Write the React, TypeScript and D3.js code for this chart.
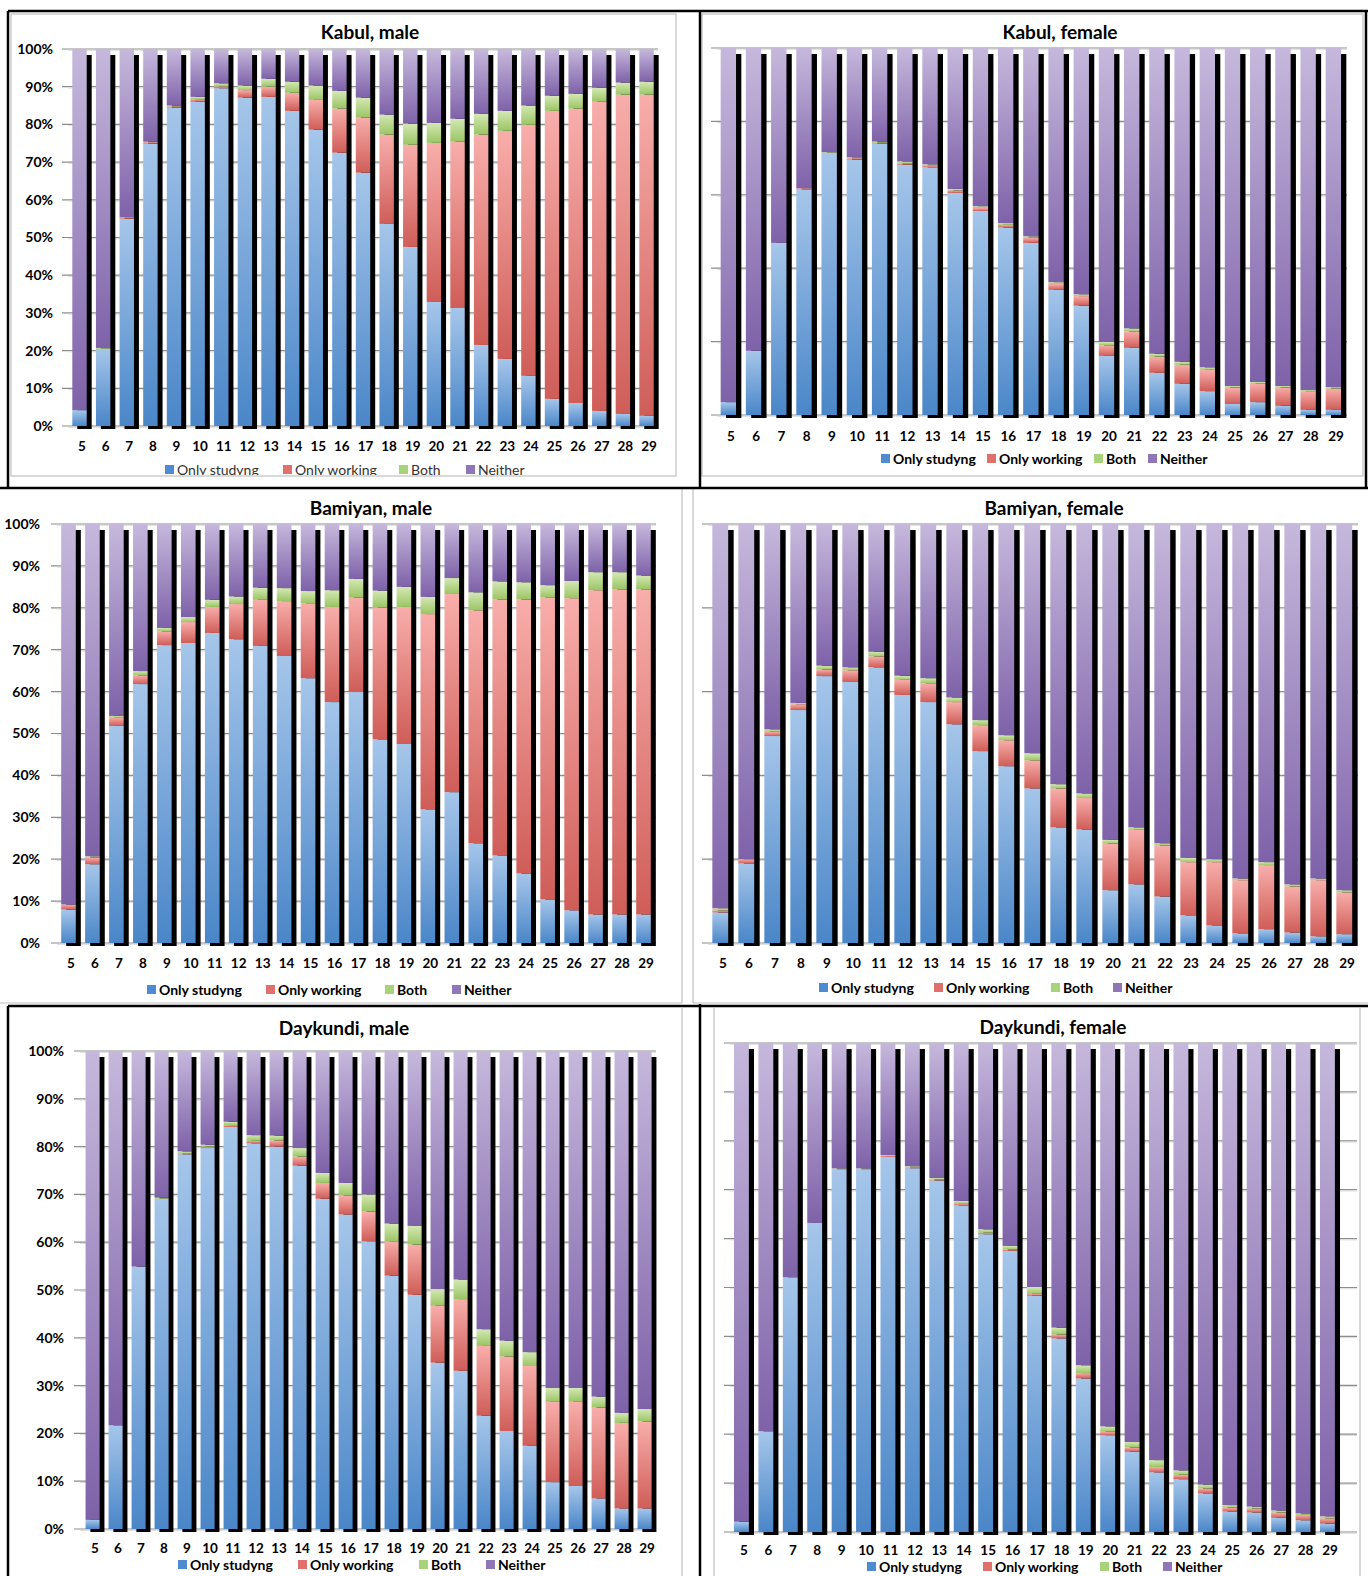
import React from "react";
import * as d3 from "d3";

// ---------- data ----------
const ages = ["5","6","7","8","9","10","11","12","13","14","15","16","17","18","19","20","21","22","23","24","25","26","27","28","29"];
const seriesNames = ["Only studyng", "Only working", "Both", "Neither"];
const yTicks10 = [0, 10, 20, 30, 40, 50, 60, 70, 80, 90, 100];
const yTicks20 = [0, 20, 40, 60, 80, 100];

const kabulMaleStudying = [4.2,20.5,55,74.9,84.5,86,89.6,87.1,87.3,83.6,78.6,72.5,67.2,53.6,47.5,32.9,31.3,21.5,17.8,13.3,7.2,6.1,4,3.2,2.7];
const kabulMaleWorking  = [0,0,0.4,0.4,0.3,0.7,0.5,2,2.7,4.8,7.9,11.7,14.6,23.7,27.1,42.2,44.1,55.8,60.5,66.6,76.4,78.1,82,84.7,85.2];
const kabulMaleBoth     = [0,0.2,0,0.1,0.2,0.6,0.8,1.2,2.1,2.9,3.8,4.7,5.3,5.3,5.6,5.3,6.1,5.5,5.3,5.1,4,3.9,3.7,3.2,3.4];

const kabulFemaleStudying = [3.5,17.5,46.9,61.5,71.4,69.6,74,68.2,67.5,60.5,55.6,51.1,46.9,34.1,29.8,16.1,18.3,11.5,8.5,6.5,3,3.5,2.5,1.4,1.4];
const kabulFemaleWorking  = [0,0,0,0.3,0,0.4,0.2,0.4,0.4,0.7,0.8,0.7,1.4,1.6,2.6,2.9,4.5,4.4,5.2,5.8,4.5,5,5,5.1,5.8];
const kabulFemaleBoth     = [0,0,0,0,0.2,0.2,0.3,0.5,0.4,0.4,0.5,0.5,0.4,0.5,0.5,0.9,0.8,0.8,0.8,0.7,0.4,0.5,0.4,0.3,0.4];

const bamiyanMaleStudying = [8,18.8,51.8,61.8,71.1,71.6,74,72.5,70.9,68.5,63.2,57.5,59.9,48.6,47.5,31.9,36,23.8,20.9,16.6,10.4,7.8,6.8,6.8,6.8];
const bamiyanMaleWorking  = [1.2,1.6,2.1,2.1,3.3,5,6.2,8.4,11,13.1,17.9,22.7,22.5,31.5,32.7,46.6,47.3,55.6,61.1,65.4,72.1,74.5,77.4,77.6,77.6];
const bamiyanMaleBoth     = [0,0.3,0.3,1,0.8,1.2,1.7,1.8,2.9,3.1,2.9,4,4.5,4,4.8,4.1,3.8,4.3,4.3,4.1,2.9,4.1,4.3,4.1,3.3];

const bamiyanFemaleStudying = [7.3,19,49.4,55.6,63.7,62.3,65.8,59.2,57.5,52.2,45.8,42.2,36.9,27.6,27.1,12.6,14,11.1,6.6,4.2,2.3,3.3,2.5,1.6,2.1];
const bamiyanFemaleWorking  = [0.5,1,1,1.4,1.6,2.8,2.6,3.6,4.5,5.3,6.2,6.2,6.7,9.3,7.5,11.1,13,12.2,12.7,15.1,12.7,15.3,11,13.4,10];
const bamiyanFemaleBoth     = [0.5,0,0.6,0.3,0.9,0.7,1.1,1,1.2,1.1,1.2,1.2,1.7,1,1.1,0.9,0.6,0.5,1,0.7,0.4,0.7,0.5,0.4,0.5];

const daykundiMaleStudying = [1.9,21.7,54.9,69.1,78.4,79.7,84.1,80.7,80,76,69.1,65.8,60.2,53,49,34.8,33.1,23.7,20.5,17.4,9.8,9,6.4,4.3,4.3];
const daykundiMaleWorking  = [0,0,0,0,0.1,0.3,0.4,0.5,1.3,1.9,3.3,4,6.2,7.2,10.5,11.9,15,14.6,15.6,16.7,16.8,17.6,19,17.9,18.2];
const daykundiMaleBoth     = [0,0,0,0.2,0.5,0.4,0.7,1.2,1,1.8,2.1,2.6,3.6,3.7,3.9,3.5,4.1,3.5,3.3,2.9,2.9,2.9,2.3,2.1,2.6];

const daykundiFemaleStudying = [2.1,20.6,52.1,63.2,74.2,74.2,76.7,74.4,71.9,66.8,60.9,57.5,48.3,39.6,31.4,19.8,16.4,12.2,10.8,7.9,4.2,4,2.9,2.4,1.7];
const daykundiFemaleWorking  = [0,0,0,0,0,0,0.2,0.1,0.2,0.3,0.3,0.3,0.4,0.8,1.1,0.7,0.9,1.1,0.9,1,0.8,0.8,1.1,1.1,1.1];
const daykundiFemaleBoth     = [0,0,0,0,0.15,0.15,0.2,0.3,0.3,0.6,0.7,0.7,1.4,1.4,1.6,1.1,1.1,1.4,0.9,0.8,0.5,0.4,0.4,0.3,0.4];

// ---------- layout ----------
type Panel = {
  key: string; title: string; s: number[]; w: number[]; b: number[];
  c0: number; c1: number; top: number; bottom: number; gridL: number; gridR: number;
  ticks: number[]; yLabelRight: number | null; xLabelY: number; legendY: number;
  legendX: number[]; legendBold: boolean; legendClip: number | null; titleX: number; titleY: number;
};

const panels: Panel[] = [
  { key: "km", title: "Kabul, male", s: kabulMaleStudying, w: kabulMaleWorking, b: kabulMaleBoth,
    c0: 82, c1: 649, top: 49, bottom: 426, gridL: 68, gridR: 658, ticks: yTicks10, yLabelRight: 53,
    xLabelY: 446, legendY: 470, legendX: [165, 283, 399, 466], legendBold: false, legendClip: 475, titleX: 370, titleY: 32 },
  { key: "kf", title: "Kabul, female", s: kabulFemaleStudying, w: kabulFemaleWorking, b: kabulFemaleBoth,
    c0: 731, c1: 1336, top: 48, bottom: 415, gridL: 717, gridR: 1347, ticks: yTicks20, yLabelRight: null,
    xLabelY: 436, legendY: 459, legendX: [881, 987, 1094, 1148], legendBold: true, legendClip: null, titleX: 1060, titleY: 32 },
  { key: "bm", title: "Bamiyan, male", s: bamiyanMaleStudying, w: bamiyanMaleWorking, b: bamiyanMaleBoth,
    c0: 71, c1: 646, top: 524, bottom: 943, gridL: 57, gridR: 656, ticks: yTicks10, yLabelRight: 40,
    xLabelY: 963, legendY: 990, legendX: [147, 266, 385, 452], legendBold: true, legendClip: null, titleX: 371, titleY: 508 },
  { key: "bf", title: "Bamiyan, female", s: bamiyanFemaleStudying, w: bamiyanFemaleWorking, b: bamiyanFemaleBoth,
    c0: 723, c1: 1347, top: 524, bottom: 943, gridL: 708, gridR: 1358, ticks: yTicks20, yLabelRight: null,
    xLabelY: 963, legendY: 988, legendX: [819, 934, 1051, 1113], legendBold: true, legendClip: null, titleX: 1054, titleY: 508 },
  { key: "dm", title: "Daykundi, male", s: daykundiMaleStudying, w: daykundiMaleWorking, b: daykundiMaleBoth,
    c0: 95, c1: 647, top: 1051, bottom: 1529, gridL: 80, gridR: 656, ticks: yTicks10, yLabelRight: 64,
    xLabelY: 1548, legendY: 1565, legendX: [178, 298, 419, 486], legendBold: true, legendClip: null, titleX: 344, titleY: 1028 },
  { key: "df", title: "Daykundi, female", s: daykundiFemaleStudying, w: daykundiFemaleWorking, b: daykundiFemaleBoth,
    c0: 744, c1: 1330, top: 1043, bottom: 1532, gridL: 730, gridR: 1357, ticks: yTicks10, yLabelRight: null,
    xLabelY: 1550, legendY: 1567, legendX: [867, 983, 1100, 1163], legendBold: true, legendClip: null, titleX: 1053, titleY: 1027 },
];

const gradStops: [string, string][] = [
  ["#a6c6ea", "#4a86c8"],
  ["#f8aeab", "#cf5d58"],
  ["#d4e8b4", "#9bc564"],
  ["#c6b8dc", "#7e62a9"],
];
const legendSwatch = ["#4f8bd0", "#e0706b", "#a9d37a", "#8f76b6"];

const FONT = "Lato, 'Open Sans', sans-serif";

function PanelChart({ p }: { p: Panel }) {
  const x = d3.scalePoint<string>().domain(ages).range([p.c0, p.c1]);
  const y = d3.scaleLinear().domain([0, 100]).range([p.bottom, p.top]);
  const step = x.step();
  const bw = step * 0.61;
  const sw = step * 0.21;
  const rows = ages.map((a, i) => {
    const s = p.s[i], w = p.w[i], b = p.b[i];
    const n = Math.max(0, 100 - s - w - b);
    return { age: a, vals: [s, w, b, n] };
  });
  const stack = d3.stack<any>().keys([0, 1, 2, 3] as any).value((d: any, k: any) => d.vals[k]);
  const series = stack(rows as any);
  const clipId = `clip-${p.key}`;
  return (
    <g>
      {/* gridlines */}
      {p.ticks.map((t) => (
        <g key={t}>
          <line x1={p.gridL - 6} x2={p.gridR} y1={y(t)} y2={y(t)} stroke="#8c8c8c" strokeWidth={1.2} />
          <line x1={p.gridL} x2={p.gridR} y1={y(t) + 1.3} y2={y(t) + 1.3} stroke="#dcdcdc" strokeWidth={1} />
        </g>
      ))}
      {/* shadows */}
      {rows.map((r) => {
        const left = (x(r.age) as number) - (bw + sw) / 2;
        return (
          <rect key={"sh" + r.age} x={left + sw} y={y(100) + 6} width={bw} height={y(0) - y(100) - 3} fill="#000" />
        );
      })}
      {/* bars */}
      {series.map((ser, k) => (
        <g key={k}>
          {ser.map((d: any, i: number) => {
            const h = y(d[0]) - y(d[1]);
            if (h <= 0.05) return null;
            const left = (x(ages[i]) as number) - (bw + sw) / 2;
            return (
              <rect key={i} x={left} y={y(d[1])} width={bw} height={h} fill={`url(#g${k})`} />
            );
          })}
        </g>
      ))}
      {/* y tick labels */}
      {p.yLabelRight !== null &&
        p.ticks.map((t) => (
          <text key={"yl" + t} x={p.yLabelRight as number} y={y(t)} dy="0.35em" textAnchor="end"
            fontFamily={FONT} fontWeight={700} fontSize={14} fill="#000">{`${t}%`}</text>
        ))}
      {/* x labels */}
      {ages.map((a) => (
        <text key={"xl" + a} x={x(a) as number} y={p.xLabelY} dy="0.35em" textAnchor="middle"
          fontFamily={FONT} fontWeight={700} fontSize={13.5} fill="#000">{a}</text>
      ))}
      {/* title */}
      <text x={p.titleX} y={p.titleY} dy="0.35em" textAnchor="middle" fontFamily={FONT} fontWeight={700} fontSize={19} fill="#000">
        {p.title}
      </text>
      {/* legend */}
      {p.legendClip !== null && (
        <defs>
          <clipPath id={clipId}>
            <rect x={0} y={0} width={1368} height={p.legendClip} />
          </clipPath>
        </defs>
      )}
      <g clipPath={p.legendClip !== null ? `url(#${clipId})` : undefined}>
        {seriesNames.map((nm, k) => (
          <g key={nm}>
            <rect x={p.legendX[k]} y={p.legendY - 5} width={9} height={9} fill={legendSwatch[k]} />
            <text x={p.legendX[k] + 12} y={p.legendY} dy="0.35em" fontFamily={FONT}
              fontWeight={p.legendBold ? 700 : 400} fontSize={14} fill={p.legendBold ? "#000" : "#333"}>{nm}</text>
          </g>
        ))}
      </g>
    </g>
  );
}

export default function App() {
  return (
    <svg width={1368} height={1576} style={{ position: "absolute", left: 0, top: 0, background: "#fff" }}>
      <defs>
        {gradStops.map((g, k) => (
          <linearGradient key={k} id={`g${k}`} x1="0" y1="0" x2="0" y2="1">
            <stop offset="0%" stopColor={g[0]} />
            <stop offset="100%" stopColor={g[1]} />
          </linearGradient>
        ))}
      </defs>
      <rect x={0} y={0} width={1368} height={1576} fill="#fff" />
      {/* gray inner frames */}
      <g stroke="#c0c0c0" strokeWidth={1.2} fill="none">
        <rect x={11} y={14} width={665} height={462} />
        <rect x={702} y={14} width={661} height={462} />
        <line x1={682} x2={682} y1={489} y2={1003} />
        <line x1={0} x2={682} y1={1003} y2={1003} />
        <line x1={693} x2={693} y1={489} y2={1003} />
        <line x1={693} x2={1368} y1={1003} y2={1003} />
        <line x1={682} x2={682} y1={1008} y2={1576} />
        <line x1={714} x2={714} y1={1008} y2={1576} />
        <line x1={1360} x2={1360} y1={1008} y2={1576} />
      </g>
      {panels.map((p) => (
        <PanelChart key={p.key} p={p} />
      ))}
      {/* black frames */}
      <g stroke="#000" strokeWidth={2.5} fill="none">
        <line x1={8} x2={1368} y1={11} y2={11} />
        <line x1={8} x2={8} y1={11} y2={488} />
        <line x1={700} x2={700} y1={11} y2={488} />
        <line x1={1366} x2={1366} y1={11} y2={488} />
        <line x1={0} x2={1368} y1={488} y2={488} />
        <line x1={8} x2={1368} y1={1006} y2={1006} />
        <line x1={8} x2={8} y1={1006} y2={1576} />
        <line x1={700} x2={700} y1={1004} y2={1576} />
      </g>
    </svg>
  );
}
